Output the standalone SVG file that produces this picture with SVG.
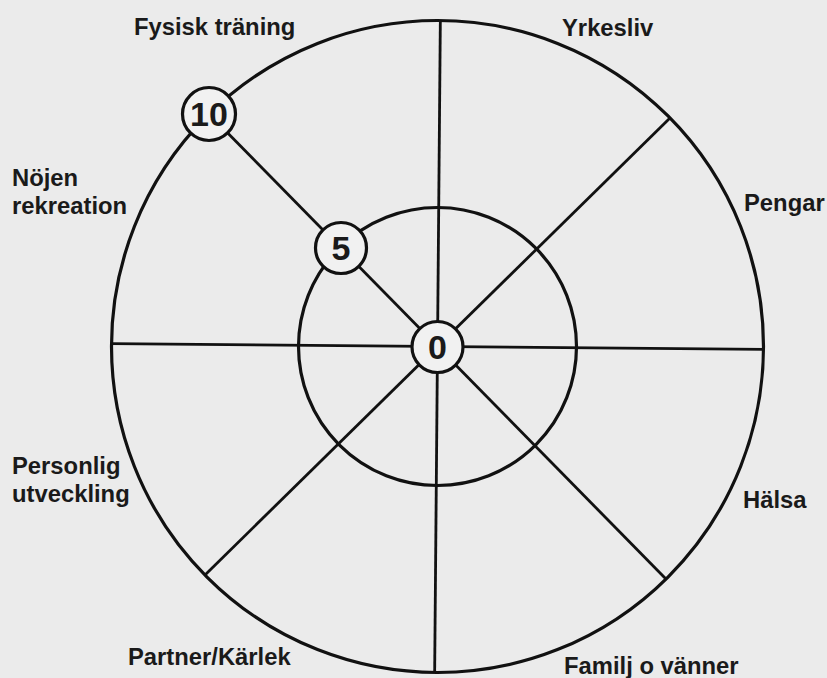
<svg xmlns="http://www.w3.org/2000/svg" width="827" height="678" viewBox="0 0 827 678">
  <style>
    .ring { fill: none; stroke: #111; stroke-width: 3.2; }
    .spoke { stroke: #111; stroke-width: 2.8; }
    .mark { fill: #f1f1f1; stroke: #111; stroke-width: 3.2; }
    .num { font-family: "Liberation Sans", Arial, sans-serif; font-weight: bold; font-size: 34px; fill: #1a1a1a; text-anchor: middle; }
    .lbl { font-family: "Liberation Sans", Arial, sans-serif; font-weight: bold; font-size: 23.8px; fill: #1a1a1a; }
  </style>
  <rect x="0" y="0" width="827" height="678" fill="#ebebeb"/>
  <g id="rings">
    <circle class="ring" cx="437.5" cy="346.5" r="326"/>
    <circle class="ring" cx="437.5" cy="346.5" r="139"/>
  </g>
  <g id="connectors" transform="rotate(0.5 437.5 346.5)">
    <line class="spoke" x1="111.5" y1="346.5" x2="763.5" y2="346.5"/>
    <line class="spoke" x1="437.5" y1="20.5" x2="437.5" y2="672.5"/>
    <line class="spoke" x1="207" y1="116" x2="668" y2="577"/>
    <line class="spoke" x1="668" y1="116" x2="207" y2="577"/>
  </g>
  <g id="mark-10">
    <circle class="mark" cx="209" cy="114" r="26.5"/>
    <text class="num" x="209" y="126">10</text>
  </g>
  <g id="mark-5">
    <circle class="mark" cx="341" cy="248" r="25.5"/>
    <text class="num" x="341" y="260">5</text>
  </g>
  <g id="mark-0">
    <circle class="mark" cx="437.5" cy="347" r="25.5"/>
    <text class="num" x="437.5" y="359">0</text>
  </g>
  <g id="label-fysisk"><text class="lbl" x="134" y="35">Fysisk träning</text></g>
  <g id="label-yrkesliv"><text class="lbl" x="562" y="36">Yrkesliv</text></g>
  <g id="label-pengar"><text class="lbl" x="744" y="211">Pengar</text></g>
  <g id="label-halsa"><text class="lbl" x="743" y="508">Hälsa</text></g>
  <g id="label-familj"><text class="lbl" x="564" y="674">Familj o vänner</text></g>
  <g id="label-partner"><text class="lbl" x="128" y="665">Partner/Kärlek</text></g>
  <g id="label-personlig"><text class="lbl" x="12" y="474">Personlig</text><text class="lbl" x="12" y="502">utveckling</text></g>
  <g id="label-nojen"><text class="lbl" x="12" y="186">Nöjen</text><text class="lbl" x="12" y="214">rekreation</text></g>
</svg>
